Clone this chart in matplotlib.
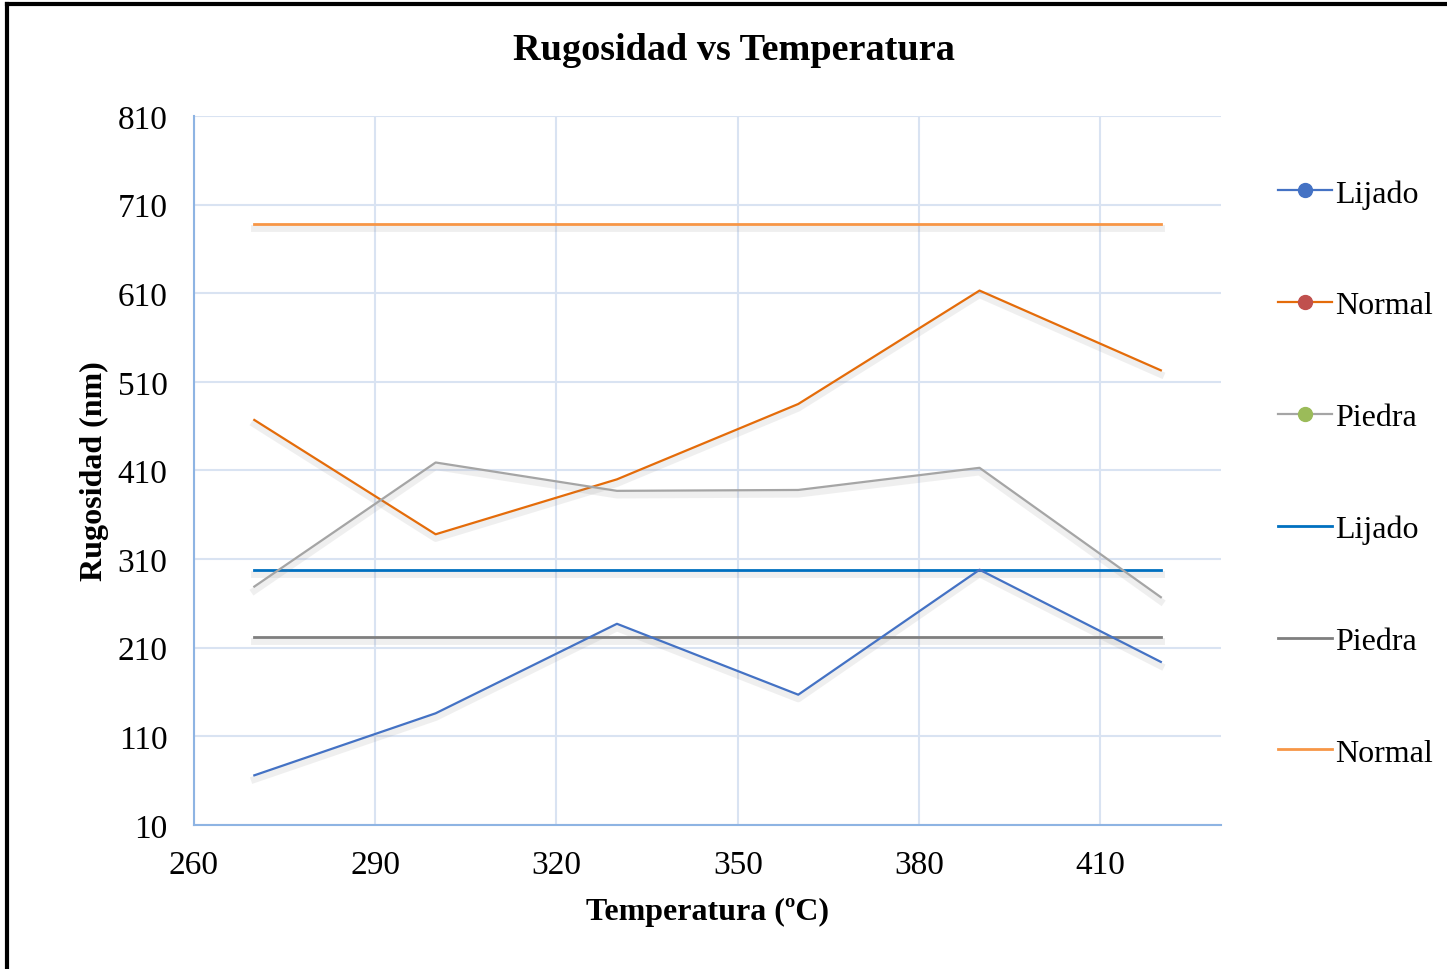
import numpy as np
import matplotlib
matplotlib.use('Agg')
import matplotlib.pyplot as plt
import matplotlib.patheffects as pe
from matplotlib.lines import Line2D

plt.rcParams['font.family'] = ['Liberation Serif', 'DejaVu Serif']

# datos
temperatura = [270, 300, 330, 360, 390, 420]
lijado = [66, 136, 237, 157, 298, 194]
normal = [467, 338, 400, 485, 613, 523]
piedra = [279, 419, 387, 388, 413, 267]
# lineas de referencia
lijado_ref = [298] * 6
piedra_ref = [222] * 6
normal_ref = [688] * 6
y_ticks = list(range(10, 811, 100))
x_ticks = list(range(260, 411, 30))

fig = plt.figure(figsize=(14.47, 9.70), dpi=100)
ax = fig.add_axes([0.134, 0.1485, 0.710, 0.7309])

sombra = [pe.SimpleLineShadow(offset=(0, -3), shadow_color='#808080', alpha=0.12, linewidth=5),
          pe.Normal()]

ax.plot(temperatura, normal_ref, color='#F79646', lw=2, path_effects=sombra)
ax.plot(temperatura, lijado_ref, color='#0070C0', lw=2, path_effects=sombra)
ax.plot(temperatura, piedra_ref, color='#7F7F7F', lw=2, path_effects=sombra)
ax.plot(temperatura, lijado, color='#4472C4', lw=1.6, path_effects=sombra)
ax.plot(temperatura, normal, color='#E46C0A', lw=1.6, path_effects=sombra)
ax.plot(temperatura, piedra, color='#A5A5A5', lw=1.6, path_effects=sombra)

ax.set_xlim(260, 430)
ax.set_ylim(10, 810)
ax.set_xticks(x_ticks)
ax.set_yticks(y_ticks)
ax.tick_params(axis='y', length=0, labelsize=24, pad=19)
ax.tick_params(axis='x', length=0, labelsize=24, pad=18)
ax.grid(True, color='#D9E3F2', linewidth=1.5)
ax.set_axisbelow(True)
for s in ['top', 'right']:
    ax.spines[s].set_visible(False)
for s in ['left', 'bottom']:
    ax.spines[s].set_color('#8EB4E3')
    ax.spines[s].set_linewidth(1.5)

ax.set_xlabel('Temperatura (ºC)', fontsize=23, fontweight='bold', labelpad=12)
ax.set_ylabel('Rugosidad (nm)', fontsize=23, fontweight='bold', labelpad=6)
fig.text(0.507, 0.948, 'Rugosidad vs Temperatura', fontsize=27.5, fontweight='bold',
         ha='center', va='center')

handles = [
    Line2D([], [], color='#4472C4', lw=1.6, marker='o', markersize=10, markerfacecolor='#4472C4', markeredgecolor='#4472C4'),
    Line2D([], [], color='#E46C0A', lw=1.6, marker='o', markersize=10, markerfacecolor='#C0504D', markeredgecolor='#C0504D'),
    Line2D([], [], color='#A5A5A5', lw=1.6, marker='o', markersize=10, markerfacecolor='#9BBB59', markeredgecolor='#9BBB59'),
    Line2D([], [], color='#0070C0', lw=2),
    Line2D([], [], color='#7F7F7F', lw=2),
    Line2D([], [], color='#F79646', lw=2),
]
labels = ['Lijado', 'Normal', 'Piedra', 'Lijado', 'Piedra', 'Normal']
fig.legend(handles, labels, loc='center left', bbox_to_anchor=(0.883, 0.511),
           frameon=False, fontsize=23, handlelength=1.7, handletextpad=0.1,
           labelspacing=2.58, borderaxespad=0, borderpad=0)

# marco
fig.add_artist(Line2D([0.005, 0.005], [0, 0.995], color='black', lw=3, transform=fig.transFigure))
fig.add_artist(Line2D([0.005, 1], [0.995, 0.995], color='black', lw=3, transform=fig.transFigure))

fig.savefig('out.png', dpi=100)
